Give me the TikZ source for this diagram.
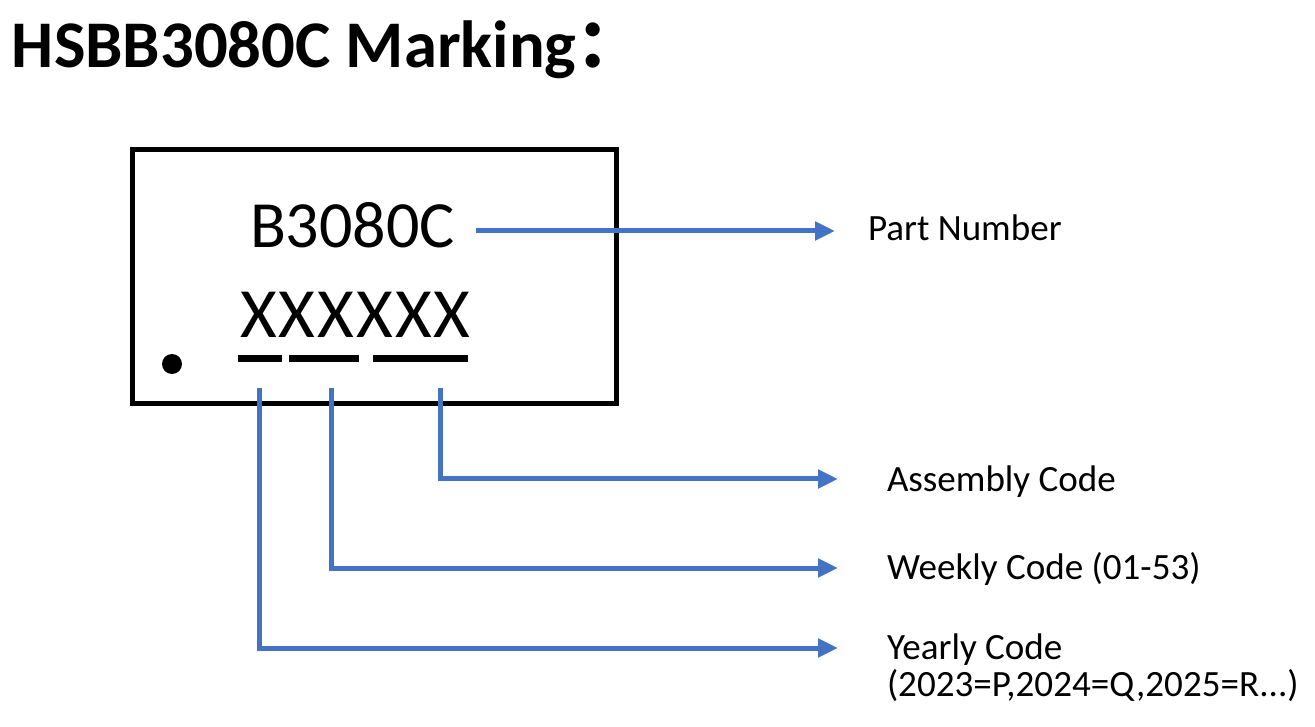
\documentclass[tikz,border=0pt]{standalone}
\usepackage{fontspec}
\setmainfont{Carlito}
\newfontfamily\cjkfont{Noto Sans CJK SC}
\usetikzlibrary{arrows.meta}
\definecolor{arrowblue}{HTML}{4472C4}
\tikzset{
  px/.style={x=0.75pt,y=-0.75pt},
  txt/.style={anchor=base west,inner sep=0pt,outer sep=0pt},
  lbl/.style={txt,font=\fontsize{27.8pt}{33pt}\selectfont},
  bar/.style={fill=black,draw=none,inner sep=0pt,minimum height=5.25pt},
  conn/.style={draw=arrowblue,line width=3.75pt,line cap=butt,line join=miter,
    -{Triangle[length=15pt,width=13.5pt]}},
}
\begin{document}
\begin{tikzpicture}[px]
\useasboundingbox (0,0) rectangle (1315,727);
% title
\node[txt,font=\fontsize{50pt}{60pt}\selectfont\bfseries] (title) at (12,68) {HSBB3080C Marking{\cjkfont\bfseries ：}};
% package box
\node[draw=black,line width=3.75pt,minimum width=363pt,minimum height=190.5pt,inner sep=0pt] (box) at (374.5,277) {};
\node[circle,fill=black,inner sep=0pt,minimum size=15pt] (dot) at (172,364) {};
\node[txt,font=\fontsize{49.5pt}{60pt}\selectfont] (pn) at (250,248) {B3080C};
\node[txt,font=\fontsize{53pt}{64pt}\selectfont\addfontfeature{LetterSpace=3}] (code) at (240,338) {XXXXXX};
% underline bars
\node[bar,minimum width=33pt] (bar1) at (260,358.5) {};
\node[bar,minimum width=52.5pt] (bar2) at (324,358.5) {};
\node[bar,minimum width=71.25pt] (bar3) at (420.5,358.5) {};
% labels
\node[lbl] (lpart) at (868,241) {Part Number};
\node[lbl] (lasm) at (887,492) {Assembly Code};
\node[lbl] (lweek) at (887,579) {Weekly Code (01-53)};
\node[lbl] (lyear) at (887,659) {Yearly Code};
\node[lbl] (lyear2) at (887,696) {(2023=P,2024=Q,2025=R{.}{.}{.})};
% connector points
\coordinate (s1) at (259,388);
\coordinate (s2) at (331,388);
\coordinate (s3) at (440,388);
\coordinate (s0) at (476,231);
\coordinate (e0) at (835,231);
\coordinate (e3) at (838,479);
\coordinate (e2) at (838,568);
\coordinate (e1) at (838,648);
% connectors
\draw[conn] (s0) -- (e0);
\draw[conn] (s3) |- (e3);
\draw[conn] (s2) |- (e2);
\draw[conn] (s1) |- (e1);
\end{tikzpicture}
\end{document}
